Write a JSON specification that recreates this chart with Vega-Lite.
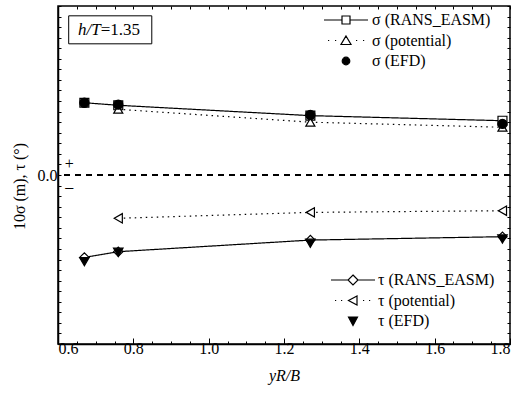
{
  "$schema": "https://vega.github.io/schema/vega-lite/v6.json",
  "width": 452,
  "height": 338,
  "autosize": {"type": "none"},
  "padding": {"left": 58, "top": 6, "right": 21, "bottom": 54},
  "background": "white",
  "config": {
    "font": "Times New Roman, Liberation Serif, serif",
    "view": {"stroke": "black", "strokeWidth": 1.5},
    "axis": {
      "grid": false,
      "labelFont": "Times New Roman, Liberation Serif, serif",
      "labelFontSize": 16,
      "labelColor": "black",
      "tickColor": "black",
      "domainColor": "black",
      "domainWidth": 1.5,
      "tickWidth": 1,
      "titleFont": "Times New Roman, Liberation Serif, serif",
      "titleFontSize": 16,
      "titleFontWeight": "normal",
      "titleColor": "black"
    },
    "legend": {
      "labelFont": "Times New Roman, Liberation Serif, serif",
      "labelFontSize": 16,
      "labelColor": "black",
      "padding": 0,
      "symbolStrokeWidth": 1.2,
      "symbolOpacity": 1
    }
  },
  "datasets": {
    "pts": [
      {"yr": 0.67, "v": 0.342, "s": "σ (RANS_EASM)", "m": "RANS"},
      {"yr": 0.76, "v": 0.330, "s": "σ (RANS_EASM)", "m": "RANS"},
      {"yr": 1.27, "v": 0.281, "s": "σ (RANS_EASM)", "m": "RANS"},
      {"yr": 1.78, "v": 0.257, "s": "σ (RANS_EASM)", "m": "RANS"},
      {"yr": 0.67, "v": -0.390, "s": "τ (RANS_EASM)", "m": "RANS"},
      {"yr": 0.76, "v": -0.363, "s": "τ (RANS_EASM)", "m": "RANS"},
      {"yr": 1.27, "v": -0.308, "s": "τ (RANS_EASM)", "m": "RANS"},
      {"yr": 1.78, "v": -0.292, "s": "τ (RANS_EASM)", "m": "RANS"},
      {"yr": 0.76, "v": 0.311, "s": "σ (potential)", "m": "potential"},
      {"yr": 1.27, "v": 0.250, "s": "σ (potential)", "m": "potential"},
      {"yr": 1.78, "v": 0.226, "s": "σ (potential)", "m": "potential"},
      {"yr": 0.76, "v": -0.205, "s": "τ (potential)", "m": "potential"},
      {"yr": 1.27, "v": -0.177, "s": "τ (potential)", "m": "potential"},
      {"yr": 1.78, "v": -0.169, "s": "τ (potential)", "m": "potential"},
      {"yr": 0.67, "v": 0.342, "s": "σ (EFD)", "m": "EFD"},
      {"yr": 0.76, "v": 0.333, "s": "σ (EFD)", "m": "EFD"},
      {"yr": 1.27, "v": 0.284, "s": "σ (EFD)", "m": "EFD"},
      {"yr": 1.78, "v": 0.242, "s": "σ (EFD)", "m": "EFD"},
      {"yr": 0.67, "v": -0.410, "s": "τ (EFD)", "m": "EFD"},
      {"yr": 0.76, "v": -0.366, "s": "τ (EFD)", "m": "EFD"},
      {"yr": 1.27, "v": -0.323, "s": "τ (EFD)", "m": "EFD"},
      {"yr": 1.78, "v": -0.303, "s": "τ (EFD)", "m": "EFD"}
    ]
  },
  "resolve": {
    "scale": {"shape": "independent", "strokeDash": "independent", "fill": "independent", "stroke": "independent", "size": "independent"},
    "legend": {"shape": "independent", "fill": "independent", "stroke": "independent"},
    "axis": {"x": "independent", "y": "independent"}
  },
  "layer": [
    {
      "data": {"name": "pts"},
      "transform": [{"filter": "datum.m != 'EFD'"}],
      "mark": {"type": "line", "color": "black", "strokeWidth": 1.2},
      "encoding": {
        "x": {
          "field": "yr", "type": "quantitative",
          "scale": {"domain": [0.6, 1.8], "nice": false, "zero": false},
          "axis": {
            "orient": "bottom",
            "title": "yR/B",
            "titleFontStyle": "italic",
            "values": [0.6,0.65,0.7,0.75,0.8,0.85,0.9,0.95,1.0,1.05,1.1,1.15,1.2,1.25,1.3,1.35,1.4,1.45,1.5,1.55,1.6,1.65,1.7,1.75,1.8],
            "labelExpr": "round(datum.value*100) % 20 == 0 ? format(datum.value, '.1f') : ''",
            "tickSize": {"condition": {"test": "round(datum.value*100) % 20 == 0", "value": -6}, "value": -3},
            "labelPadding": 2,
            "titlePadding": 11
          }
        },
        "y": {
          "field": "v", "type": "quantitative",
          "scale": {"domain": [-0.8, 0.8], "nice": false, "zero": false},
          "axis": {
            "orient": "left",
            "title": "10σ (m), τ (°)",
            "titleY": 180,
            "values": [-0.8,-0.75,-0.7,-0.65,-0.6,-0.55,-0.5,-0.45,-0.4,-0.35,-0.3,-0.25,-0.2,-0.15,-0.1,-0.05,0,0.05,0.1,0.15,0.2,0.25,0.3,0.35,0.4,0.45,0.5,0.55,0.6,0.65,0.7,0.75,0.8],
            "labelExpr": "datum.value == 0 ? '0.0' : ''",
            "tickSize": -3,
            "labelPadding": 4,
            "titlePadding": 10
          }
        },
        "detail": {"field": "s"},
        "strokeDash": {
          "field": "m", "type": "nominal",
          "scale": {"domain": ["RANS", "potential"], "range": [[1, 0], [1.5, 4]]},
          "legend": null
        }
      }
    },
    {
      "data": {"name": "pts"},
      "mark": {"type": "rule", "color": "black", "strokeWidth": 1.2, "strokeDash": [6, 5]},
      "encoding": {
        "y": {"datum": 0, "type": "quantitative", "axis": null}
      }
    },
    {
      "data": {"name": "pts"},
      "mark": {"type": "point", "filled": true, "stroke": "black", "strokeWidth": 1.2, "opacity": 1},
      "encoding": {
        "x": {
          "field": "yr", "type": "quantitative",
          "axis": {
            "orient": "top", "title": null, "labels": false, "domain": false,
            "values": [0.6,0.65,0.7,0.75,0.8,0.85,0.9,0.95,1.0,1.05,1.1,1.15,1.2,1.25,1.3,1.35,1.4,1.45,1.5,1.55,1.6,1.65,1.7,1.75,1.8],
            "tickSize": -3
          }
        },
        "y": {
          "field": "v", "type": "quantitative",
          "axis": {
            "orient": "right", "title": null, "labels": false, "domain": false,
            "values": [-0.8,-0.75,-0.7,-0.65,-0.6,-0.55,-0.5,-0.45,-0.4,-0.35,-0.3,-0.25,-0.2,-0.15,-0.1,-0.05,0,0.05,0.1,0.15,0.2,0.25,0.3,0.35,0.4,0.45,0.5,0.55,0.6,0.65,0.7,0.75,0.8],
            "tickSize": -3
          }
        },
        "shape": {
          "field": "s", "type": "nominal",
          "scale": {
            "domain": ["σ (RANS_EASM)", "σ (potential)", "σ (EFD)", "τ (RANS_EASM)", "τ (potential)", "τ (EFD)"],
            "range": ["square", "triangle-up", "circle", "diamond", "triangle-left", "triangle-down"]
          },
          "legend": null
        },
        "fill": {
          "field": "s", "type": "nominal",
          "scale": {
            "domain": ["σ (RANS_EASM)", "σ (potential)", "σ (EFD)", "τ (RANS_EASM)", "τ (potential)", "τ (EFD)"],
            "range": ["white", "white", "black", "white", "white", "black"]
          },
          "legend": null
        },
        "size": {
          "field": "s", "type": "nominal",
          "scale": {
            "domain": ["σ (RANS_EASM)", "σ (potential)", "σ (EFD)", "τ (RANS_EASM)", "τ (potential)", "τ (EFD)"],
            "range": [80, 90, 64, 110, 90, 90]
          },
          "legend": null
        }
      }
    },
    {
      "data": {"name": "pts"},
      "transform": [{"filter": "datum.yr > 100"}],
      "mark": {"type": "point", "filled": true, "opacity": 1},
      "encoding": {
        "shape": {
          "field": "s", "type": "nominal",
          "scale": {
            "domain": ["σ (RANS_EASM)", "σ (potential)", "σ (EFD)"],
            "range": [
              "M-2.2,0H-0.4M0.4,0H2.2M-0.4,-0.4H0.4V0.4H-0.4Z",
              "M-1.8,0h0.12M-1.1,0h0.12M1.0,0h0.12M1.7,0h0.12M0,-0.45L0.5,0.4H-0.5Z",
              "M-0.38,0A0.38,0.38,0,1,1,0.38,0A0.38,0.38,0,1,1,-0.38,0Z"
            ]
          },
          "legend": {
            "orient": "none", "legendX": 277, "legendY": 3, "title": null,
            "symbolSize": 400, "labelOffset": 15, "rowPadding": 1.5, "symbolOpacity": 1
          }
        },
        "fill": {
          "field": "s", "type": "nominal",
          "scale": {
            "domain": ["σ (RANS_EASM)", "σ (potential)", "σ (EFD)"],
            "range": ["white", "white", "black"]
          },
          "legend": {
            "orient": "none", "legendX": 277, "legendY": 3, "title": null,
            "symbolSize": 400, "labelOffset": 15, "rowPadding": 1.5, "symbolOpacity": 1
          }
        },
        "stroke": {
          "field": "s", "type": "nominal",
          "scale": {
            "domain": ["σ (RANS_EASM)", "σ (potential)", "σ (EFD)"],
            "range": ["black", "black", "black"]
          },
          "legend": {
            "orient": "none", "legendX": 277, "legendY": 3, "title": null,
            "symbolSize": 400, "labelOffset": 15, "rowPadding": 1.5, "symbolOpacity": 1
          }
        }
      }
    },
    {
      "data": {"name": "pts"},
      "transform": [{"filter": "datum.yr > 100"}],
      "mark": {"type": "point", "filled": true, "opacity": 1},
      "encoding": {
        "shape": {
          "field": "s", "type": "nominal",
          "scale": {
            "domain": ["τ (RANS_EASM)", "τ (potential)", "τ (EFD)"],
            "range": [
              "M-2.2,0H-0.5M0.5,0H2.2M0,-0.5L0.5,0L0,0.5L-0.5,0Z",
              "M-1.8,0h0.12M-1.2,0h0.12M1.0,0h0.12M1.6,0h0.12M-0.45,0L0.4,-0.45V0.45Z",
              "M-0.45,-0.4H0.45L0,0.45Z"
            ]
          },
          "legend": {
            "orient": "none", "legendX": 284, "legendY": 263, "title": null,
            "symbolSize": 400, "labelOffset": 14, "rowPadding": 1.5, "symbolOpacity": 1
          }
        },
        "fill": {
          "field": "s", "type": "nominal",
          "scale": {
            "domain": ["τ (RANS_EASM)", "τ (potential)", "τ (EFD)"],
            "range": ["white", "white", "black"]
          },
          "legend": {
            "orient": "none", "legendX": 284, "legendY": 263, "title": null,
            "symbolSize": 400, "labelOffset": 14, "rowPadding": 1.5, "symbolOpacity": 1
          }
        },
        "stroke": {
          "field": "s", "type": "nominal",
          "scale": {
            "domain": ["τ (RANS_EASM)", "τ (potential)", "τ (EFD)"],
            "range": ["black", "black", "black"]
          },
          "legend": {
            "orient": "none", "legendX": 284, "legendY": 263, "title": null,
            "symbolSize": 400, "labelOffset": 14, "rowPadding": 1.5, "symbolOpacity": 1
          }
        }
      }
    },
    {
      "data": {"values": [{"label": "h/T=1.35"}]},
      "mark": {"type": "rect", "fill": "white", "stroke": "black", "strokeWidth": 1},
      "encoding": {
        "x": {"datum": 0.6284, "type": "quantitative", "axis": null},
        "x2": {"datum": 0.849},
        "y": {"datum": 0.7535, "type": "quantitative", "axis": null},
        "y2": {"datum": 0.621}
      }
    },
    {
      "data": {"values": [{"label": "h/T"}]},
      "mark": {"type": "text", "fontSize": 17, "fontStyle": "italic", "align": "right", "baseline": "middle", "fill": "black"},
      "encoding": {
        "x": {"datum": 0.7134, "type": "quantitative", "axis": null},
        "y": {"datum": 0.687, "type": "quantitative", "axis": null},
        "text": {"field": "label"}
      }
    },
    {
      "data": {"values": [{"label": "=1.35"}]},
      "mark": {"type": "text", "fontSize": 17, "align": "left", "baseline": "middle", "fill": "black"},
      "encoding": {
        "x": {"datum": 0.7134, "type": "quantitative", "axis": null},
        "y": {"datum": 0.687, "type": "quantitative", "axis": null},
        "text": {"field": "label"}
      }
    },
    {
      "data": {"values": [{"label": "+", "v": 0.052}, {"label": "–", "v": -0.055}]},
      "mark": {"type": "text", "fontSize": 16, "align": "center", "baseline": "middle", "fill": "black", "color": "black", "font": "Liberation Serif"},
      "encoding": {
        "x": {"datum": 0.63, "type": "quantitative", "axis": null},
        "y": {"field": "v", "type": "quantitative", "axis": null},
        "text": {"field": "label"}
      }
    }
  ]
}
